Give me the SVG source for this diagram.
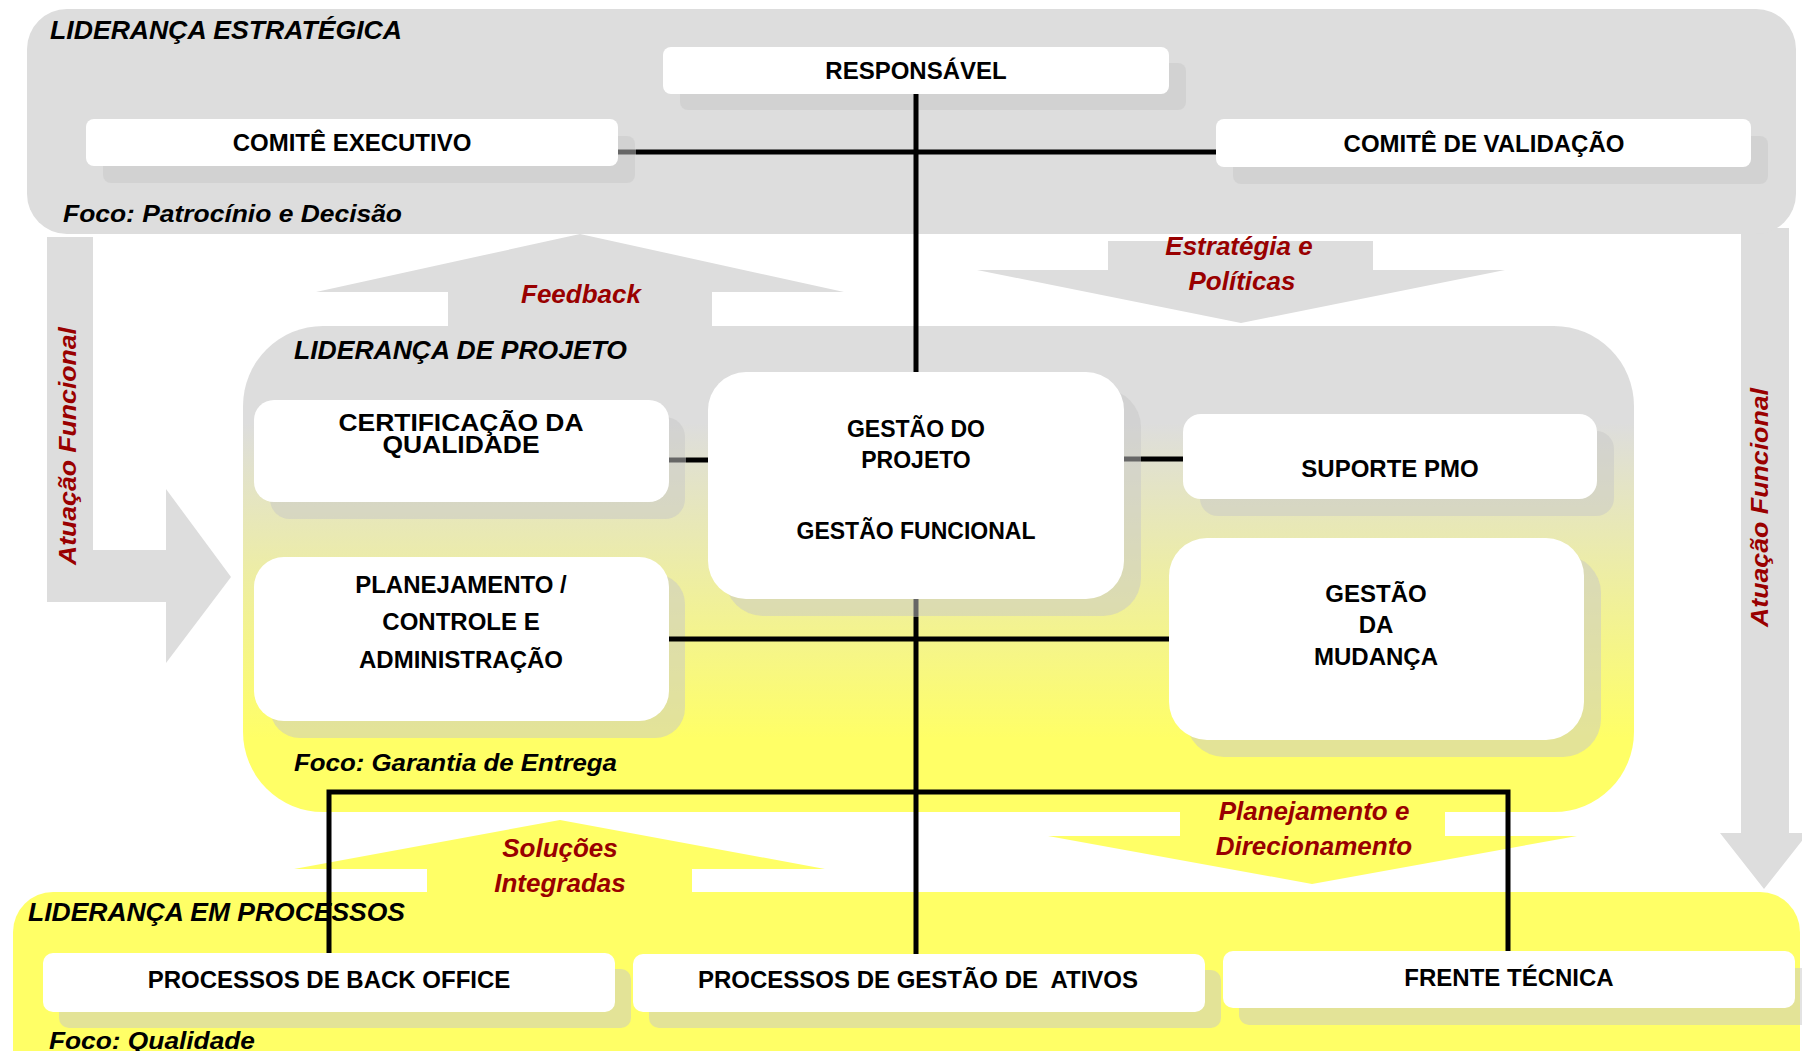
<svg xmlns="http://www.w3.org/2000/svg" width="1802" height="1051" viewBox="0 0 1802 1051">
<defs>
<linearGradient id="projGrad" x1="0" y1="0" x2="0" y2="1">
<stop offset="0" stop-color="#DDDDDD"/>
<stop offset="0.2" stop-color="#DDDDDD"/>
<stop offset="0.85" stop-color="#FFFF66"/>
<stop offset="1" stop-color="#FFFF66"/>
</linearGradient>
<style>
.panelGray{fill:#DDDDDD}
.panelYellow{fill:#FFFF66}
.arrowGray{fill:#DDDDDD}
.arrowYellow{fill:#FFFF66}
.box{fill:#FFFFFF}
.shadow{fill:#C8C8C8;fill-opacity:0.5}
.ln{stroke:#000000;stroke-width:5;fill:none}
.lnG{stroke:#666666;stroke-width:5;fill:none}
.lbl{font-family:"Liberation Sans",Arial,sans-serif;font-weight:bold;font-size:24px;fill:#000000;text-anchor:middle}
.hdr{font-family:"Liberation Sans",Arial,sans-serif;font-weight:bold;font-style:italic;font-size:26px;fill:#000000}
.foco{font-family:"Liberation Sans",Arial,sans-serif;font-weight:bold;font-style:italic;font-size:23px;fill:#000000}
.red{font-family:"Liberation Sans",Arial,sans-serif;font-weight:bold;font-style:italic;font-size:26px;fill:#990000;text-anchor:middle}
.redv{font-family:"Liberation Sans",Arial,sans-serif;font-weight:bold;font-style:italic;font-size:24px;fill:#990000}
</style>
</defs>
<rect x="0" y="0" width="1802" height="1051" fill="#FFFFFF"/>

<!-- gray flow arrows -->
<g id="arrow-atuacao-esq">
<polygon class="arrowGray" points="47,237 93,237 93,550 166,550 166,489 231,577 166,663 166,602 47,602"/>
<text class="redv" transform="translate(76,565) rotate(-90)" textLength="238" lengthAdjust="spacingAndGlyphs">Atuação Funcional</text>
</g>
<g id="arrow-atuacao-dir">
<polygon class="arrowGray" points="1741,228 1789,228 1789,833 1808,833 1764,889 1720,833 1741,833"/>
<text class="redv" transform="translate(1768,627) rotate(-90)" textLength="239" lengthAdjust="spacingAndGlyphs">Atuação Funcional</text>
</g>
<g id="arrow-feedback">
<polygon class="arrowGray" points="580,234 844,292 712,292 712,330 448,330 448,292 316,292"/>
</g>
<g id="arrow-estrategia">
<polygon class="arrowGray" points="1108,241 1373,241 1373,270 1505,270 1241,323 977,270 1108,270"/>
</g>

<!-- panels -->
<g id="lideranca-estrategica">
<rect class="panelGray" x="27" y="9" width="1769" height="225" rx="40" ry="40"/>
<text class="hdr" x="50" y="39" textLength="352" lengthAdjust="spacingAndGlyphs">LIDERANÇA ESTRATÉGICA</text>
<text class="foco" x="63" y="222" textLength="339" lengthAdjust="spacingAndGlyphs">Foco: Patrocínio e Decisão</text>
</g>
<g id="lideranca-projeto">
<rect x="243" y="326" width="1391" height="486" rx="80" ry="80" fill="url(#projGrad)"/>
<text class="hdr" x="294" y="359" textLength="333" lengthAdjust="spacingAndGlyphs">LIDERANÇA DE PROJETO</text>
<text class="foco" x="294" y="771" textLength="323" lengthAdjust="spacingAndGlyphs">Foco: Garantia de Entrega</text>
</g>

<!-- yellow flow arrows -->
<g id="arrow-solucoes">
<polygon class="arrowYellow" points="560,820 825,869 692,869 692,896 427,896 427,869 294,869"/>
</g>
<g id="arrow-planejamento">
<polygon class="arrowYellow" points="1180,810 1445,810 1445,836 1577,836 1312,884 1048,836 1180,836"/>
</g>

<g id="lideranca-processos">
<rect class="panelYellow" x="13" y="892" width="1787" height="220" rx="40" ry="40"/>
<text class="hdr" x="28" y="921" textLength="377" lengthAdjust="spacingAndGlyphs">LIDERANÇA EM PROCESSOS</text>
<text class="foco" x="49" y="1049" textLength="206" lengthAdjust="spacingAndGlyphs">Foco: Qualidade</text>
</g>

<!-- arrow labels -->
<g id="labels-fluxo">
<text class="red" x="581" y="303">Feedback</text>
<text class="red" x="1239" y="255">Estratégia e</text>
<text class="red" x="1242" y="290">Políticas</text>
<text class="red" x="560" y="857">Soluções</text>
<text class="red" x="560" y="892">Integradas</text>
<text class="red" x="1314" y="820">Planejamento e</text>
<text class="red" x="1314" y="855">Direcionamento</text>
</g>

<!-- shadows -->
<g id="shadows">
<rect class="shadow" x="680" y="63" width="506" height="47" rx="8"/>
<rect class="shadow" x="103" y="136" width="532" height="47" rx="8"/>
<rect class="shadow" x="1233" y="136" width="535" height="48" rx="8"/>
<rect class="shadow" x="270" y="417" width="415" height="102" rx="20"/>
<rect class="shadow" x="270" y="574" width="415" height="164" rx="30"/>
<rect class="shadow" x="725" y="389" width="416" height="227" rx="38"/>
<rect class="shadow" x="1200" y="431" width="414" height="85" rx="18"/>
<rect class="shadow" x="1186" y="555" width="415" height="202" rx="38"/>
<rect class="shadow" x="59" y="969" width="572" height="59" rx="10"/>
<rect class="shadow" x="649" y="970" width="572" height="58" rx="10"/>
<rect class="shadow" x="1239" y="968" width="572" height="57" rx="10"/>
</g>

<!-- connectors -->
<g id="connectors">
<line class="lnG" x1="618" y1="152" x2="636" y2="152"/>
<line class="ln" x1="636" y1="152" x2="1216" y2="152"/>
<line class="ln" x1="916" y1="94" x2="916" y2="372"/>
<line class="lnG" x1="669" y1="460" x2="686" y2="460"/>
<line class="ln" x1="686" y1="460" x2="708" y2="460"/>
<line class="lnG" x1="1124" y1="459" x2="1141" y2="459"/>
<line class="ln" x1="1141" y1="459" x2="1183" y2="459"/>
<line class="ln" x1="669" y1="639" x2="1169" y2="639"/>
<line class="lnG" x1="916" y1="599" x2="916" y2="617"/>
<line class="ln" x1="916" y1="617" x2="916" y2="954"/>
<polyline class="ln" points="329,953 329,792 1508,792 1508,951" stroke-width="6"/>
</g>

<!-- nodes -->
<g id="responsavel">
<rect class="box" x="663" y="47" width="506" height="47" rx="8"/>
<text class="lbl" x="916" y="79">RESPONSÁVEL</text>
</g>
<g id="comite-executivo">
<rect class="box" x="86" y="119" width="532" height="47" rx="8"/>
<text class="lbl" x="352" y="151">COMITÊ EXECUTIVO</text>
</g>
<g id="comite-validacao">
<rect class="box" x="1216" y="119" width="535" height="48" rx="8"/>
<text class="lbl" x="1484" y="152">COMITÊ DE VALIDAÇÃO</text>
</g>
<g id="certificacao-qualidade">
<rect class="box" x="254" y="400" width="415" height="102" rx="20"/>
<text class="lbl" x="461" y="431" textLength="245" lengthAdjust="spacingAndGlyphs">CERTIFICAÇÃO DA</text>
<text class="lbl" x="461" y="453" textLength="157" lengthAdjust="spacingAndGlyphs">QUALIDADE</text>
</g>
<g id="planejamento-controle">
<rect class="box" x="254" y="557" width="415" height="164" rx="30"/>
<text class="lbl" x="461" y="593">PLANEJAMENTO /</text>
<text class="lbl" x="461" y="630">CONTROLE E</text>
<text class="lbl" x="461" y="668">ADMINISTRAÇÃO</text>
</g>
<g id="gestao-projeto">
<rect class="box" x="708" y="372" width="416" height="227" rx="38"/>
<text class="lbl" x="916" y="437" style="font-size:23px">GESTÃO DO</text>
<text class="lbl" x="916" y="468" style="font-size:23px">PROJETO</text>
<text class="lbl" x="916" y="539" style="font-size:23px">GESTÃO FUNCIONAL</text>
</g>
<g id="suporte-pmo">
<rect class="box" x="1183" y="414" width="414" height="85" rx="18"/>
<text class="lbl" x="1390" y="477">SUPORTE PMO</text>
</g>
<g id="gestao-mudanca">
<rect class="box" x="1169" y="538" width="415" height="202" rx="38"/>
<text class="lbl" x="1376" y="602">GESTÃO</text>
<text class="lbl" x="1376" y="633">DA</text>
<text class="lbl" x="1376" y="665">MUDANÇA</text>
</g>
<g id="processos-back-office">
<rect class="box" x="43" y="953" width="572" height="59" rx="10"/>
<text class="lbl" x="329" y="988">PROCESSOS DE BACK OFFICE</text>
</g>
<g id="processos-gestao-ativos">
<rect class="box" x="633" y="954" width="572" height="58" rx="10"/>
<text class="lbl" x="918" y="988" style="white-space:pre">PROCESSOS DE GESTÃO DE  ATIVOS</text>
</g>
<g id="frente-tecnica">
<rect class="box" x="1223" y="951" width="572" height="57" rx="10"/>
<text class="lbl" x="1509" y="986">FRENTE TÉCNICA</text>
</g>
</svg>
